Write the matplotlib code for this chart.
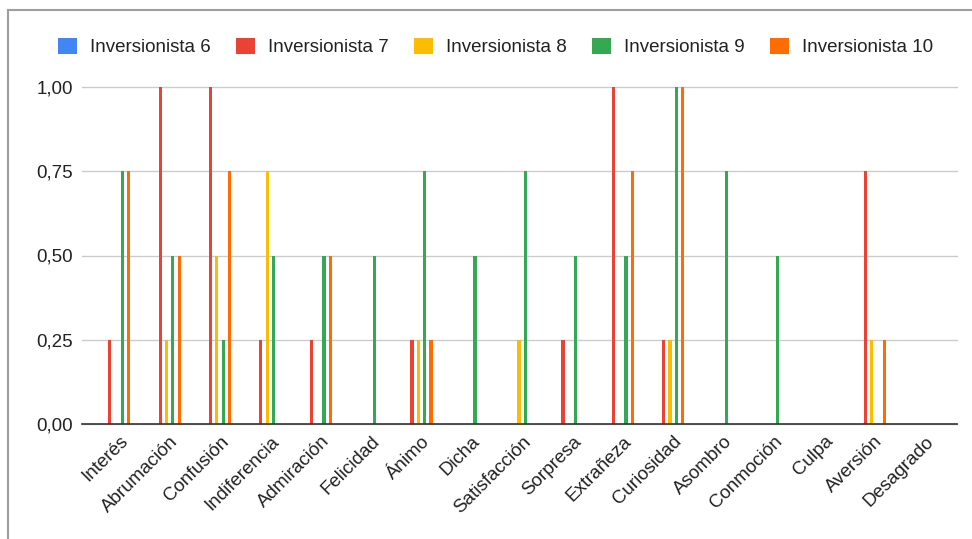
import numpy as np
import matplotlib
matplotlib.use('Agg')
import matplotlib.pyplot as plt
import matplotlib.transforms as mtransforms
from matplotlib.lines import Line2D
from matplotlib.patches import Patch

plt.rcParams['font.family'] = ['Liberation Sans', 'DejaVu Sans']

emociones = ['Interés', 'Abrumación', 'Confusión', 'Indiferencia', 'Admiración',
             'Felicidad', 'Ánimo', 'Dicha', 'Satisfacción', 'Sorpresa',
             'Extrañeza', 'Curiosidad', 'Asombro', 'Conmoción', 'Culpa',
             'Aversión', 'Desagrado']

inversionista_6 = [0, 0, 0, 0, 0, 0, 0, 0, 0, 0, 0, 0, 0, 0, 0, 0, 0]
inversionista_7 = [0.25, 1.0, 1.0, 0.25, 0.25, 0, 0.25, 0, 0, 0.25, 1.0, 0.25, 0, 0, 0, 0.75, 0]
inversionista_8 = [0, 0.25, 0.5, 0.75, 0, 0, 0.25, 0, 0.25, 0, 0, 0.25, 0, 0, 0, 0.25, 0]
inversionista_9 = [0.75, 0.5, 0.25, 0.5, 0.5, 0.5, 0.75, 0.5, 0.75, 0.5, 0.5, 1.0, 0.75, 0.5, 0, 0, 0]
inversionista_10 = [0.75, 0.5, 0.75, 0, 0.5, 0, 0.25, 0, 0, 0, 0.75, 1.0, 0, 0, 0, 0.25, 0]

series = [inversionista_6, inversionista_7, inversionista_8, inversionista_9, inversionista_10]
nombres = ['Inversionista 6', 'Inversionista 7', 'Inversionista 8',
           'Inversionista 9', 'Inversionista 10']
colores = ['#4285F4', '#EA4335', '#FBBC04', '#34A853', '#FF6D01']

y_ticks = [0, 0.25, 0.5, 0.75, 1.0]
y_labels = ['0,00', '0,25', '0,50', '0,75', '1,00']

fs = 13.5

fig = plt.figure(figsize=(9.72, 5.39), dpi=100)
ax = fig.add_axes([82 / 972, 1 - 424 / 539, (957 - 82) / 972, (424 - 87) / 539])

x = np.arange(len(emociones))
paso = 0.126
ancho = 0.062
for k, (vals, color) in enumerate(zip(series, colores)):
    ax.bar(x + (k - 2) * paso, vals, width=ancho, color=color, zorder=3)

ax.set_xlim(-0.68, len(emociones) - 1 + 0.7)
ax.set_ylim(0, 1)
ax.set_yticks(y_ticks)
ax.set_yticklabels(y_labels, fontsize=fs, color='#222222')
ax.grid(axis='y', color='#cccccc', linewidth=1, zorder=0, clip_on=False)
for s in ax.spines.values():
    s.set_visible(False)
ax.axhline(0, color='#333333', linewidth=1.2, zorder=4, clip_on=False)
ax.tick_params(axis='both', length=0)
ax.tick_params(axis='y', pad=6.5)

ax.set_xticks(x)
ax.set_xticklabels(emociones, fontsize=fs, color='#222222', rotation=45,
                   ha='right', va='center', rotation_mode='anchor')
desplaza = mtransforms.ScaledTranslation(9 / 100, -10 / 100, fig.dpi_scale_trans)
for lbl in ax.get_xticklabels():
    lbl.set_transform(lbl.get_transform() + desplaza)

handles = [Patch(facecolor=c, edgecolor='none') for c in colores]
fig.legend(handles, nombres, loc='center', bbox_to_anchor=(495.5 / 972, 1 - 47 / 539),
           ncol=5, frameon=False, fontsize=fs, handlelength=1.0,
           handleheight=1.0, handletextpad=0.7, columnspacing=1.35,
           borderpad=0, labelcolor='#222222')

# marco gris superior e izquierdo
fig.add_artist(Line2D([8 / 972, 1], [1 - 10 / 539, 1 - 10 / 539], color='#9e9e9e', linewidth=1.5))
fig.add_artist(Line2D([8 / 972, 8 / 972], [0, 1 - 10 / 539], color='#9e9e9e', linewidth=1.5))

fig.savefig('out.png', dpi=100)
